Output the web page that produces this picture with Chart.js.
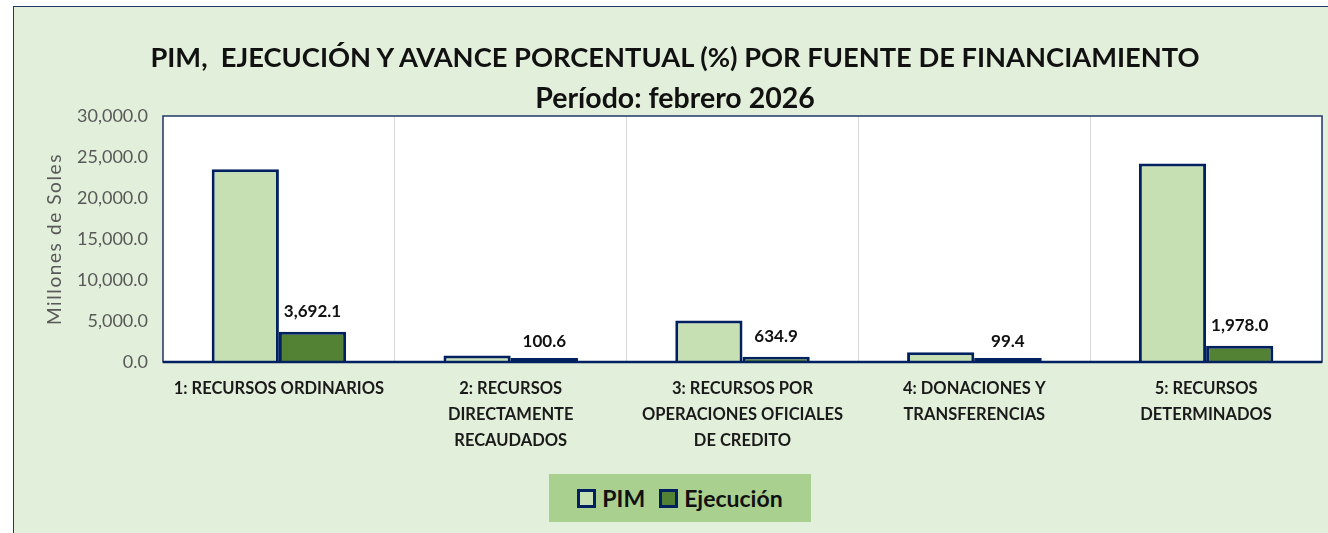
<!DOCTYPE html>
<html>
<head>
<meta charset="utf-8">
<script src="https://cdn.jsdelivr.net/npm/chart.js@4"></script>
<style>
  body { margin: 0; background: #fff; width: 1328px; height: 533px; overflow: hidden; position: relative; font-family: Lato, "Open Sans", sans-serif; }
  #box { position: absolute; left: 13px; top: 6px; width: 1320px; height: 530px; border: 1px solid #1F3864; background: #E2EFDA; }
  #chart { position: absolute; left: 0; top: 0; }
  .title { position: absolute; left: 0; width: 1322px; text-align: center; font-weight: bold; color: #111; line-height: 1.2; }
  #t1 { top: 34px; font-size: 27.3px; }
  #t2 { top: 73px; font-size: 28.5px; }
  #legend { position: absolute; left: 535px; top: 467px; width: 262px; height: 48px; background: #A9D08E; display: flex; align-items: center; justify-content: center; font-weight: bold; font-size: 23px; color: #111; }
  .sw { display: inline-block; width: 13px; height: 13px; border: 3px solid #002060; margin-right: 6px; }
  .item { display: flex; align-items: center; margin: 0 7px; }
</style>
</head>
<body>
<div id="box">
  <canvas id="chart" width="1314" height="526"></canvas>
  <div class="title" id="t1">PIM,&nbsp; EJECUCIÓN Y AVANCE PORCENTUAL (%) POR FUENTE DE FINANCIAMIENTO</div>
  <div class="title" id="t2">Período: febrero 2026</div>
  <div id="legend">
    <span class="item"><span class="sw" style="background:#C6E0B4"></span>PIM</span>
    <span class="item"><span class="sw" style="background:#548235"></span>Ejecución</span>
  </div>
</div>
<script>
const categories = [
    ['1: RECURSOS ORDINARIOS'],
    ['2: RECURSOS', 'DIRECTAMENTE', 'RECAUDADOS'],
    ['3: RECURSOS POR', 'OPERACIONES OFICIALES', 'DE CREDITO'],
    ['4: DONACIONES Y', 'TRANSFERENCIAS'],
    ['5: RECURSOS', 'DETERMINADOS']
];
const pim       = [23500, 800, 5050, 1200, 24200];
const ejecucion = [3692.1, 100.6, 634.9, 99.4, 1978.0];
const yTicks    = [0, 5000, 10000, 15000, 20000, 25000, 30000];
const yTitle    = 'Millones de Soles';

const fmt = v => v.toLocaleString('en-US', { minimumFractionDigits: 1, maximumFractionDigits: 1 });

// white plot area + navy frame like the excel original
const plotBg = {
    id: 'plotBg',
    beforeDraw(chart) {
        const { ctx, chartArea: a } = chart;
        ctx.save();
        ctx.fillStyle = '#fff';
        ctx.fillRect(a.left, a.top, a.right - a.left, a.bottom - a.top);
        ctx.restore();
    },
    afterDraw(chart) {
        const { ctx, chartArea: a } = chart;
        ctx.save();
        ctx.strokeStyle = '#1F3864';
        ctx.lineWidth = 1.5;
        ctx.strokeRect(a.left, a.top, a.right - a.left, a.bottom - a.top);
        ctx.beginPath();
        ctx.lineWidth = 2.5;
        ctx.strokeStyle = '#002060';
        ctx.moveTo(a.left, a.bottom);
        ctx.lineTo(a.right, a.bottom);
        ctx.stroke();

        // y title with a bit of letter spacing (axis title option can't do that)
        ctx.translate(41, (a.top + a.bottom) / 2);
        ctx.rotate(-Math.PI / 2);
        ctx.font = '19px Lato, sans-serif';
        ctx.letterSpacing = '1.6px';
        ctx.fillStyle = '#595959';
        ctx.textAlign = 'center';
        ctx.textBaseline = 'middle';
        ctx.fillText(yTitle, 0, 0);
        ctx.restore();
    }
};

const valueLabels = {
    id: 'valueLabels',
    afterDatasetsDraw(chart) {
        const { ctx } = chart;
        ctx.save();
        // excel still shows the outline of very short bars
        ctx.fillStyle = '#002060';
        chart.data.datasets.forEach((ds, d) => {
            chart.getDatasetMeta(d).data.forEach(bar => {
                if (bar.base - bar.y < 3) ctx.fillRect(bar.x - bar.width / 2, bar.base - 4, bar.width, 4);
            });
        });
        const meta = chart.getDatasetMeta(1);
        ctx.font = 'bold 17px Lato, sans-serif';
        ctx.fillStyle = '#111';
        ctx.textAlign = 'center';
        ctx.textBaseline = 'middle';
        meta.data.forEach((bar, i) => {
            ctx.fillText(fmt(ejecucion[i]), bar.x, bar.y - 20);
        });
        ctx.restore();
    }
};

new Chart(document.getElementById('chart'), {
    type: 'bar',
    data: {
        labels: categories,
        datasets: [
            { label: 'PIM', data: pim, backgroundColor: '#C6E0B4', borderColor: '#002060', borderWidth: 3 },
            { label: 'Ejecución', data: ejecucion, backgroundColor: '#548235', borderColor: '#002060', borderWidth: 3 }
        ]
    },
    options: {
        responsive: false,
        animation: false,
        events: [],
        categoryPercentage: 0.58,
        barPercentage: 1,
        layout: { padding: { top: 109, right: 6, left: 0, bottom: 0 } },
        plugins: { legend: { display: false }, tooltip: { enabled: false } },
        scales: {
            x: {
                grid: { display: true, color: '#D9D9D9', drawTicks: false, offset: true },
                border: { display: false },
                ticks: { color: '#1a1a1a', font: { family: 'Lato', size: 16.5, weight: 'bold', lineHeight: 1.57 }, padding: 14, maxRotation: 0, autoSkip: false },
                afterFit(s) { s.height = 171; }
            },
            y: {
                min: 0, max: 30000,
                afterBuildTicks(s) { s.ticks = yTicks.map(v => ({ value: v })); },
                grid: { display: false, drawTicks: false },
                border: { display: false },
                ticks: { color: '#595959', font: { family: 'Lato', size: 18 }, padding: 15, callback: v => fmt(v) },
                afterFit(s) { s.width = 149; }
            }
        }
    },
    plugins: [plotBg, valueLabels]
});
</script>
</body>
</html>
